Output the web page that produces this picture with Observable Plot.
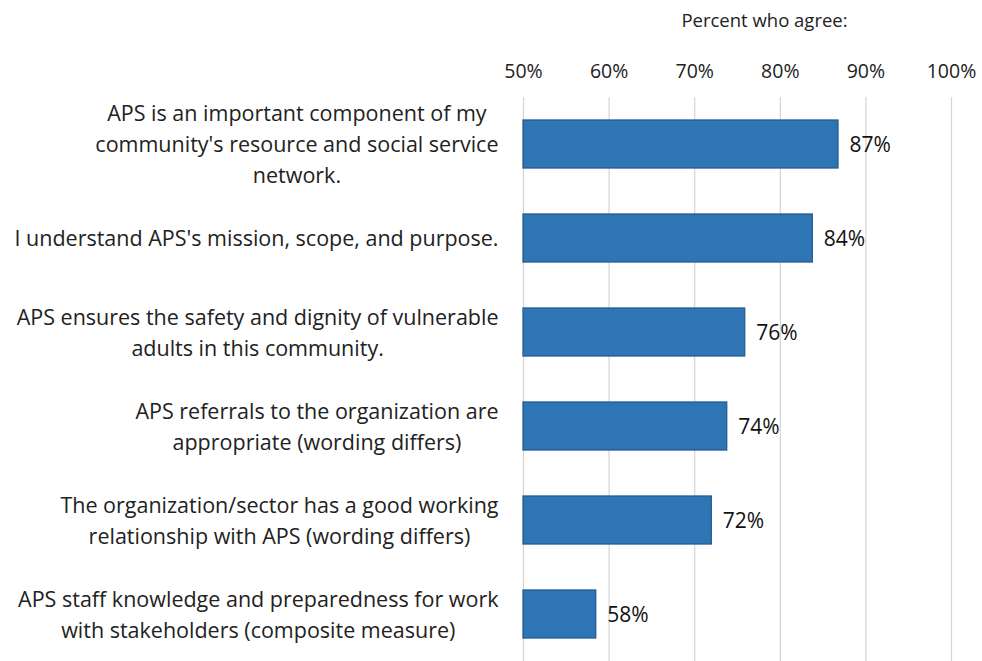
<!DOCTYPE html>
<html>
<head>
<meta charset="utf-8">
<script src="https://cdn.jsdelivr.net/npm/d3@7"></script>
<script src="https://cdn.jsdelivr.net/npm/@observablehq/plot@0.6"></script>
<style>
  html, body { margin: 0; padding: 0; background: #fff; }
</style>
</head>
<body>
<div id="chart"></div>
<script>
const categories = [
  "APS is an important component of my\ncommunity's resource and social service\nnetwork.",
  "I understand APS's mission, scope, and purpose.",
  "APS ensures the safety and dignity of vulnerable\nadults in this community.",
  "APS referrals to the organization are\nappropriate (wording differs)",
  "The organization/sector has a good working\nrelationship with APS (wording differs)",
  "APS staff knowledge and preparedness for work\nwith stakeholders (composite measure)"
];
const values = [86.8, 83.8, 75.9, 73.8, 72.0, 58.5];
const valueLabels = ["87%", "84%", "76%", "74%", "72%", "58%"];
const xTicks = [50, 60, 70, 80, 90, 100];
const axisTitle = "Percent who agree:";

const data = categories.map((c, i) => ({cat: c, value: values[i], label: valueLabels[i]}));

const plot = Plot.plot({
  width: 982,
  height: 661,
  marginTop: 97,
  marginBottom: 0,
  marginLeft: 523,
  marginRight: 31,
  style: {fontFamily: "'Open Sans', sans-serif", color: "#222", background: "#fff"},
  x: {domain: [50, 100]},
  y: {domain: categories, paddingInner: 0.49, paddingOuter: 0.245},
  marks: [
    Plot.gridX(xTicks, {stroke: "#d4d4d4", strokeOpacity: 1, strokeWidth: 1.2}),
    Plot.axisX(xTicks, {
      anchor: "top", tickSize: 0, tickPadding: 20, fontSize: 19.5,
      tickFormat: d => d + "%", label: null
    }),
    Plot.text([axisTitle], {
      frameAnchor: "top", text: d => d, dy: -84, dx: 27, fontSize: 18.5, fill: "#222"
    }),
    Plot.axisY({
      tickSize: 0, tickPadding: 25, fontSize: 21.5, lineHeight: 1.44,
      tickFormat: d => d, label: null, dy: -2
    }),
    Plot.barX(data, {
      x1: () => 50, x2: "value", y: "cat",
      fill: "#2e75b6", stroke: "#245d8f", strokeWidth: 1.3
    }),
    Plot.text(data, {
      x: "value", y: "cat", text: "label", textAnchor: "start", dx: 11, dy: 1,
      fontSize: 21, fill: "#111"
    })
  ]
});

document.getElementById("chart").appendChild(plot);

// center each multi-line y label block while keeping its right edge aligned
plot.querySelectorAll('g[aria-label="y-axis tick label"] text').forEach(t => {
  const spans = t.querySelectorAll("tspan");
  if (spans.length < 2) return;
  let w = 0;
  spans.forEach(s => { w = Math.max(w, s.getComputedTextLength()); });
  t.setAttribute("text-anchor", "middle");
  t.style.textAnchor = "middle";
  spans.forEach(s => s.setAttribute("x", -w / 2));
});
</script>
</body>
</html>
